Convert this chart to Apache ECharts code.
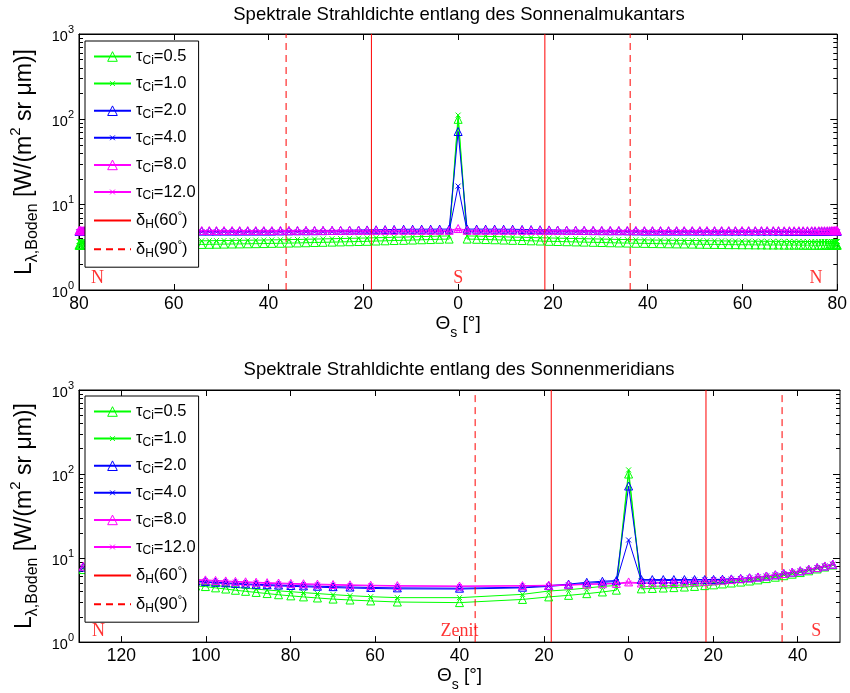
<!DOCTYPE html>
<html><head><meta charset="utf-8">
<script src="https://cdn.jsdelivr.net/npm/echarts@6/dist/echarts.min.js"></script>
<style>html,body{margin:0;padding:0;background:#fff}#c{width:850px;height:693px}</style>
</head><body><div id="c"></div><script>
// ---------- data: top plot (almucantar) ----------
const topX = [-80.0,-79.9,-79.8,-79.7,-79.4,-79.1,-78.8,-78.4,-77.9,-77.3,-76.7,-76.1,-75.3,-74.6,-73.7,-72.8,-71.9,-70.9,-69.9,-68.8,-67.6,-66.5,-65.2,-64.0,-62.7,-61.3,-59.9,-58.5,-57.1,-55.6,-54.1,-52.5,-51.0,-49.4,-47.7,-46.1,-44.4,-42.7,-41.0,-39.3,-37.5,-35.7,-33.9,-32.1,-30.3,-28.5,-26.6,-24.8,-22.9,-21.0,-19.2,-17.3,-15.4,-13.5,-11.5,-9.6,-7.7,-5.8,-3.9,-1.9,0,1.9,3.9,5.8,7.7,9.6,11.5,13.5,15.4,17.3,19.2,21.0,22.9,24.8,26.6,28.5,30.3,32.1,33.9,35.7,37.5,39.3,41.0,42.7,44.4,46.1,47.7,49.4,51.0,52.5,54.1,55.6,57.1,58.5,59.9,61.3,62.7,64.0,65.2,66.5,67.6,68.8,69.9,70.9,71.9,72.8,73.7,74.6,75.3,76.1,76.7,77.3,77.9,78.4,78.8,79.1,79.4,79.7,79.8,79.9,80.0];
const top05 = [3.35,3.35,3.35,3.35,3.35,3.35,3.35,3.35,3.35,3.35,3.35,3.35,3.35,3.35,3.35,3.35,3.36,3.36,3.36,3.36,3.37,3.37,3.37,3.38,3.38,3.39,3.39,3.4,3.4,3.41,3.42,3.43,3.44,3.45,3.46,3.47,3.48,3.49,3.5,3.52,3.53,3.55,3.56,3.58,3.6,3.62,3.64,3.66,3.68,3.7,3.72,3.75,3.77,3.8,3.82,3.85,3.88,3.9,3.93,3.95,
 100,
 3.95,3.93,3.9,3.88,3.85,3.82,3.8,3.77,3.75,3.72,3.7,3.68,3.66,3.64,3.62,3.6,3.58,3.56,3.55,3.53,3.52,3.5,3.49,3.48,3.47,3.46,3.45,3.44,3.43,3.42,3.41,3.4,3.4,3.39,3.39,3.38,3.38,3.37,3.37,3.37,3.36,3.36,3.36,3.36,3.35,3.35,3.35,3.35,3.35,3.35,3.35,3.35,3.35,3.35,3.35,3.35,3.35,3.35,3.35,3.35];
const top10 = [3.7,3.7,3.7,3.7,3.7,3.7,3.7,3.7,3.7,3.7,3.7,3.7,3.7,3.7,3.7,3.7,3.71,3.71,3.71,3.71,3.72,3.72,3.72,3.73,3.73,3.74,3.74,3.75,3.75,3.76,3.77,3.78,3.79,3.8,3.81,3.82,3.83,3.84,3.85,3.87,3.88,3.9,3.91,3.93,3.95,3.97,3.99,4.01,4.03,4.05,4.07,4.1,4.12,4.15,4.17,4.2,4.23,4.25,4.28,4.3,
 112,
 4.3,4.28,4.25,4.23,4.2,4.17,4.15,4.12,4.1,4.07,4.05,4.03,4.01,3.99,3.97,3.95,3.93,3.91,3.9,3.88,3.87,3.85,3.84,3.83,3.82,3.81,3.8,3.79,3.78,3.77,3.76,3.75,3.75,3.74,3.74,3.73,3.73,3.72,3.72,3.72,3.71,3.71,3.71,3.71,3.7,3.7,3.7,3.7,3.7,3.7,3.7,3.7,3.7,3.7,3.7,3.7,3.7,3.7,3.7,3.7];
const top20 = [4.88,4.88,4.88,4.88,4.88,4.88,4.88,4.88,4.88,4.88,4.88,4.88,4.88,4.88,4.88,4.88,4.88,4.88,4.88,4.88,4.9,4.9,4.9,4.9,4.9,4.9,4.9,4.9,4.9,4.9,4.9,4.9,4.9,4.9,4.9,4.9,4.9,4.9,4.9,4.9,4.92,4.93,4.94,4.94,4.95,4.96,4.98,5.0,5.02,5.04,5.06,5.08,5.1,5.12,5.15,5.15,5.16,5.16,5.17,5.17,
 72,
 5.17,5.17,5.16,5.16,5.15,5.15,5.12,5.1,5.08,5.06,5.04,5.02,5.0,4.98,4.96,4.95,4.94,4.94,4.93,4.92,4.9,4.9,4.9,4.9,4.9,4.9,4.9,4.9,4.9,4.9,4.9,4.9,4.9,4.9,4.9,4.9,4.9,4.9,4.9,4.9,4.88,4.88,4.88,4.88,4.88,4.88,4.88,4.88,4.88,4.88,4.88,4.88,4.88,4.88,4.88,4.88,4.88,4.88,4.88,4.88];
const top40 = [4.76,4.76,4.76,4.76,4.76,4.76,4.76,4.76,4.76,4.76,4.76,4.76,4.76,4.76,4.76,4.76,4.76,4.76,4.76,4.76,4.78,4.78,4.78,4.78,4.78,4.78,4.78,4.78,4.78,4.78,4.78,4.78,4.78,4.78,4.78,4.78,4.78,4.78,4.78,4.78,4.8,4.8,4.8,4.8,4.8,4.8,4.8,4.8,4.8,4.8,4.8,4.8,4.8,4.8,4.82,4.82,4.84,4.84,4.86,4.86,
 16.5,
 4.86,4.86,4.84,4.84,4.82,4.82,4.8,4.8,4.8,4.8,4.8,4.8,4.8,4.8,4.8,4.8,4.8,4.8,4.8,4.8,4.78,4.78,4.78,4.78,4.78,4.78,4.78,4.78,4.78,4.78,4.78,4.78,4.78,4.78,4.78,4.78,4.78,4.78,4.78,4.78,4.76,4.76,4.76,4.76,4.76,4.76,4.76,4.76,4.76,4.76,4.76,4.76,4.76,4.76,4.76,4.76,4.76,4.76,4.76,4.76];
const top80 = [4.96,4.96,4.96,4.96,4.96,4.96,4.96,4.96,4.96,4.96,4.96,4.96,4.96,4.96,4.96,4.96,4.96,4.96,4.96,4.96,4.98,4.98,4.98,4.98,4.98,4.98,4.98,4.98,4.98,4.98,4.98,4.98,4.98,4.98,4.98,4.98,4.98,4.98,4.98,4.98,5.0,5.0,5.0,5.0,5.0,5.0,5.0,5.0,5.0,5.0,5.0,5.0,5.0,5.0,5.0,5.0,5.0,5.0,5.0,5.0,
 5.25,
 5.0,5.0,5.0,5.0,5.0,5.0,5.0,5.0,5.0,5.0,5.0,5.0,5.0,5.0,5.0,5.0,5.0,5.0,5.0,5.0,4.98,4.98,4.98,4.98,4.98,4.98,4.98,4.98,4.98,4.98,4.98,4.98,4.98,4.98,4.98,4.98,4.98,4.98,4.98,4.98,4.96,4.96,4.96,4.96,4.96,4.96,4.96,4.96,4.96,4.96,4.96,4.96,4.96,4.96,4.96,4.96,4.96,4.96,4.96,4.96];
const top12 = [4.82,4.82,4.82,4.82,4.82,4.82,4.82,4.82,4.82,4.82,4.82,4.82,4.82,4.82,4.82,4.82,4.82,4.82,4.82,4.82,4.83,4.83,4.83,4.83,4.83,4.83,4.83,4.83,4.83,4.83,4.83,4.83,4.83,4.83,4.83,4.83,4.83,4.83,4.83,4.83,4.85,4.85,4.85,4.85,4.85,4.85,4.85,4.85,4.85,4.85,4.85,4.85,4.85,4.85,4.85,4.85,4.85,4.85,4.85,4.85,
 5.0,
 4.85,4.85,4.85,4.85,4.85,4.85,4.85,4.85,4.85,4.85,4.85,4.85,4.85,4.85,4.85,4.85,4.85,4.85,4.85,4.85,4.83,4.83,4.83,4.83,4.83,4.83,4.83,4.83,4.83,4.83,4.83,4.83,4.83,4.83,4.83,4.83,4.83,4.83,4.83,4.83,4.82,4.82,4.82,4.82,4.82,4.82,4.82,4.82,4.82,4.82,4.82,4.82,4.82,4.82,4.82,4.82,4.82,4.82,4.82,4.82];

// ---------- data: bottom plot (meridian) ----------
const botX = [-129.0,-126.6,-124.2,-121.8,-119.4,-117.0,-114.6,-112.2,-109.8,-107.3,-104.8,-102.4,-100.1,-97.7,-95.3,-93.0,-90.6,-88.1,-85.5,-82.8,-79.9,-76.9,-73.6,-69.9,-65.9,-61.0,-54.7,-40.0,-25.1,-18.9,-14.2,-9.9,-6.2,-2.9,0,3.0,5.6,8.2,10.7,13.2,15.6,18.0,20.1,22.2,24.3,26.5,28.6,30.6,32.6,34.7,36.7,38.7,40.6,42.6,44.6,46.4,48.3];
const bot05 = [7.3,6.8,6.35,6.0,5.7,5.45,5.25,5.07,4.93,4.82,4.72,4.65,4.58,4.42,4.28,4.14,4.02,3.9,3.78,3.66,3.55,3.45,3.35,3.25,3.17,3.09,3.0,2.95,3.22,3.45,3.6,3.77,3.95,4.15,100,4.3,4.35,4.4,4.45,4.52,4.6,4.7,4.8,4.92,5.05,5.18,5.33,5.5,5.7,5.92,6.17,6.43,6.72,7.05,7.42,7.82,8.25];
const bot10 = [7.6,7.1,6.7,6.35,6.05,5.8,5.6,5.4,5.25,5.1,5.0,4.92,4.85,4.72,4.6,4.48,4.37,4.27,4.17,4.07,3.98,3.88,3.78,3.67,3.57,3.47,3.38,3.38,3.7,4.05,4.2,4.4,4.6,4.72,112,4.55,4.6,4.65,4.72,4.8,4.88,4.97,5.07,5.18,5.3,5.43,5.57,5.73,5.92,6.13,6.37,6.63,6.9,7.22,7.57,7.95,8.35];
const bot20 = [7.8,7.4,7.05,6.75,6.5,6.25,6.05,5.85,5.7,5.55,5.42,5.32,5.25,5.15,5.08,5.0,4.93,4.87,4.82,4.77,4.72,4.67,4.62,4.57,4.52,4.47,4.42,4.38,4.5,4.7,4.9,5.15,5.3,5.4,72,5.55,5.55,5.55,5.55,5.55,5.55,5.55,5.57,5.6,5.65,5.72,5.83,5.96,6.12,6.32,6.55,6.8,7.05,7.35,7.7,8.05,8.45];
const bot40 = [7.7,7.3,6.95,6.65,6.4,6.15,5.95,5.75,5.6,5.45,5.32,5.22,5.15,5.06,4.98,4.9,4.83,4.77,4.71,4.66,4.61,4.56,4.5,4.45,4.4,4.35,4.3,4.28,4.42,4.6,4.8,5.0,5.15,5.25,16.4,5.35,5.37,5.4,5.42,5.45,5.48,5.5,5.53,5.57,5.62,5.7,5.8,5.93,6.1,6.3,6.53,6.78,7.03,7.33,7.68,8.03,8.43];
const bot80 = [8.0,7.6,7.25,6.95,6.7,6.45,6.25,6.05,5.9,5.75,5.65,5.55,5.5,5.42,5.35,5.28,5.22,5.16,5.1,5.05,5.0,4.95,4.9,4.85,4.8,4.75,4.7,4.65,4.7,4.75,4.8,4.9,4.95,5.0,5.2,5.05,5.08,5.1,5.13,5.17,5.22,5.28,5.36,5.45,5.55,5.67,5.8,5.95,6.12,6.32,6.55,6.8,7.05,7.35,7.7,8.05,8.45];
const bot12 = [7.9,7.5,7.15,6.85,6.6,6.35,6.15,5.95,5.8,5.65,5.55,5.45,5.4,5.32,5.25,5.18,5.12,5.06,5.0,4.95,4.9,4.85,4.8,4.76,4.72,4.68,4.63,4.6,4.65,4.7,4.75,4.85,4.9,4.95,5.05,5.0,5.03,5.06,5.1,5.14,5.19,5.25,5.33,5.42,5.52,5.64,5.77,5.92,6.1,6.3,6.53,6.78,7.03,7.33,7.68,8.03,8.43];

// reference lines (halo edges) and axis ticks
const dH60 = [-18.3, 18.3];
const dH90 = [-36.3, 36.3];
const yRange = [1, 1000];
const topTicks = [-80,-60,-40,-20,0,20,40,60,80];
const botTicks = [-120,-100,-80,-60,-40,-20,0,20,40];
const yMajor = [1,10,100,1000];
const yMinor = [2,3,4,5,6,7,8,9,20,30,40,50,60,70,80,90,200,300,400,500,600,700,800,900];
const tauNames = ['0.5','1.0','2.0','4.0','8.0','12.0'];
const topLabels = [[-76.1,1.36,'N'],[0,1.36,'S'],[75.5,1.36,'N']];
const botLabels = [[-125.4,1.36,'N'],[-40.0,1.36,'Zenit'],[44.4,1.36,'S']];
const titles = ['Spektrale Strahldichte entlang des Sonnenalmukantars','Spektrale Strahldichte entlang des Sonnenmeridians'];

const SANS = '"Liberation Sans", Arial, sans-serif';
const SERIF = '"Liberation Serif", "Times New Roman", serif';
const GREEN = '#00ff00', BLUE = '#0000ff', MAG = '#ff00ff', RED = '#ff0000';
const XPATH = 'path://M0,0M20,20M5,5L15,15M5,15L15,5';
const styles = [
  {c: GREEN, tri: true}, {c: GREEN, tri: false},
  {c: BLUE, tri: true}, {c: BLUE, tri: false},
  {c: MAG, tri: true}, {c: MAG, tri: false}
];
const seriesNames = tauNames.map(t => 'tau' + t).concat(['dH60', 'dH90']);

const chart = echarts.init(document.getElementById('c'), null, {renderer: 'canvas'});

const grids = [
  {left: 79, right: 10, top: 34, height: 256},
  {left: 79, right: 10, top: 390, height: 255}
];

function xAxes(gi, min, max, ticks) {
  return [
    {type: 'value', gridIndex: gi, min: min, max: max, position: 'bottom',
     axisLine: {show: true, onZero: false, lineStyle: {color: '#000', width: 1}},
     axisTick: {show: true, inside: true, length: 6, customValues: ticks, lineStyle: {color: '#000'}},
     axisLabel: {show: true, customValues: ticks, formatter: v => String(Math.abs(v)), color: '#000', fontFamily: SANS, fontSize: 17.5, margin: 5},
     splitLine: {show: false},
     name: '{m|Θ}{s|s}{m| [°]}', nameLocation: 'middle', nameGap: 22,
     nameTextStyle: {rich: {
       m: {fontFamily: SANS, fontSize: 19, color: '#000', lineHeight: 26, verticalAlign: 'top'},
       s: {fontFamily: SANS, fontSize: 14, color: '#000', lineHeight: 14, verticalAlign: 'bottom'}}}
    },
    {type: 'value', gridIndex: gi, min: min, max: max, position: 'top',
     axisLine: {show: true, onZero: false, lineStyle: {color: '#000', width: 1}},
     axisTick: {show: true, inside: true, length: 6, customValues: ticks, lineStyle: {color: '#000'}},
     axisLabel: {show: false}, splitLine: {show: false}}
  ];
}

// tick-only axes in log10 space (0..3) so that minor ticks sit at 2..9 x 10^k
function tickAxis(gi, pos, vals, len) {
  return {type: 'value', gridIndex: gi, min: 0, max: 3, position: pos,
    axisLine: {show: false, onZero: false}, axisLabel: {show: false}, splitLine: {show: false},
    axisTick: {show: true, inside: true, length: len, customValues: vals.map(v => Math.log10(v)), lineStyle: {color: '#000'}}};
}

function yAxes(gi) {
  const lab = {show: true, customValues: yMajor, margin: 5,
    formatter: v => '{b|10}{e|' + Math.round(Math.log10(v)) + '}',
    rich: {
      b: {fontFamily: SANS, fontSize: 14.5, color: '#000', lineHeight: 20, verticalAlign: 'bottom'},
      e: {fontFamily: SANS, fontSize: 11, color: '#000', lineHeight: 11, verticalAlign: 'top'}}};
  const a0 = {type: 'log', logBase: 10, gridIndex: gi, min: yRange[0], max: yRange[1], position: 'left',
    splitLine: {show: false}, axisLine: {show: true, onZero: false, lineStyle: {color: '#000'}},
    axisTick: {show: false}, axisLabel: lab,
    name: '{m|L}{s|λ,Boden}{m| [W/(m}{p|2}{m| sr μm)]}', nameLocation: 'middle', nameRotate: 90, nameGap: 38,
    nameTextStyle: {rich: {
      m: {fontFamily: SANS, fontSize: 23, color: '#000', lineHeight: 32, verticalAlign: 'middle'},
      s: {fontFamily: SANS, fontSize: 16, color: '#000', lineHeight: 16, verticalAlign: 'bottom'},
      p: {fontFamily: SANS, fontSize: 15, color: '#000', lineHeight: 15, verticalAlign: 'top'}}}};
  return [
    a0,
    tickAxis(gi, 'left', yMajor, 7),
    tickAxis(gi, 'left', yMinor, 4),
    tickAxis(gi, 'right', yMajor, 7),
    tickAxis(gi, 'right', yMinor, 4)
  ];
}

function dataSeries(gi, xs, arrs) {
  const out = [];
  const xi = gi * 2, yi = gi * 5;
  arrs.forEach((ys, k) => {
    const st = styles[k];
    out.push({
      type: 'line', name: seriesNames[k], xAxisIndex: xi, yAxisIndex: yi,
      data: xs.map((x, i) => [x, ys[i]]),
      symbol: st.tri ? 'triangle' : XPATH, symbolSize: st.tri ? 8 : 10, symbolKeepAspect: true,
      showAllSymbol: true,
      lineStyle: {color: st.c, width: 1},
      itemStyle: {color: 'rgba(0,0,0,0)', borderColor: st.c, borderWidth: 1},
      emphasis: {disabled: true}
    });
  });
  const vline = (name, v, type) => ({
    type: 'line', name: name, xAxisIndex: xi, yAxisIndex: yi,
    data: [[v, yRange[0]], [v, yRange[1]]], symbol: 'none',
    lineStyle: {color: RED, width: 1, type: type},
    itemStyle: {color: 'rgba(0,0,0,0)', borderWidth: 0},
    emphasis: {disabled: true}, silent: true
  });
  dH60.forEach(v => out.push(vline('dH60', v, 'solid')));
  dH90.forEach(v => out.push(vline('dH90', v, [7, 5])));
  return out;
}

function labelSeries(gi, labels) {
  return {type: 'scatter', name: 'lbl' + gi, xAxisIndex: gi * 2, yAxisIndex: gi * 5,
    data: labels, symbolSize: 1, itemStyle: {color: 'rgba(0,0,0,0)'}, silent: true,
    label: {show: true, position: 'inside', formatter: p => p.data[2], color: RED, fontFamily: SERIF, fontSize: 18}};
}

const legendRich = {
  t: {fontFamily: SANS, fontSize: 16.5, color: '#000', lineHeight: 20, verticalAlign: 'middle'},
  s: {fontFamily: SANS, fontSize: 12, color: '#000', lineHeight: 12, verticalAlign: 'bottom'},
  p: {fontFamily: SANS, fontSize: 11, color: '#000', lineHeight: 11, verticalAlign: 'top'}
};
function legendFormatter(name) {
  if (name === 'dH60') return '{t|δ}{s|H}{t|(60}{p|°}{t|)}';
  if (name === 'dH90') return '{t|δ}{s|H}{t|(90}{p|°}{t|)}';
  return '{t|τ}{s|Ci}{t|=' + name.slice(3) + '}';
}
function legend(top) {
  return {orient: 'vertical', left: 85, top: top, data: seriesNames, selectedMode: false,
    padding: [7, 3, 8, 8], itemGap: 8.6, itemWidth: 37, itemHeight: 12,
    backgroundColor: '#fff', borderColor: '#000', borderWidth: 1, borderRadius: 0,
    itemStyle: {borderWidth: 1},
    formatter: legendFormatter, textStyle: {rich: legendRich}};
}

const option = {
  animation: false,
  backgroundColor: '#fff',
  grid: grids.map(g => Object.assign({show: true, borderColor: '#000', borderWidth: 1, backgroundColor: 'rgba(0,0,0,0)'}, g)),
  xAxis: xAxes(0, -80, 80, topTicks).concat(xAxes(1, -130, 50, botTicks)),
  yAxis: yAxes(0).concat(yAxes(1)),
  legend: [legend(41), legend(396)],
  graphic: titles.map((t, i) => ({type: 'text', x: 459, y: i === 0 ? 15 : 370,
    style: {text: t, fontFamily: SANS, fontSize: 18.5, fill: '#000', align: 'center', verticalAlign: 'middle', textAlign: 'center', textVerticalAlign: 'middle'}})),
  series: dataSeries(0, topX, [top05, top10, top20, top40, top80, top12])
    .concat([labelSeries(0, topLabels)])
    .concat(dataSeries(1, botX, [bot05, bot10, bot20, bot40, bot80, bot12]))
    .concat([labelSeries(1, botLabels)])
};
chart.setOption(option);
</script></body></html>
